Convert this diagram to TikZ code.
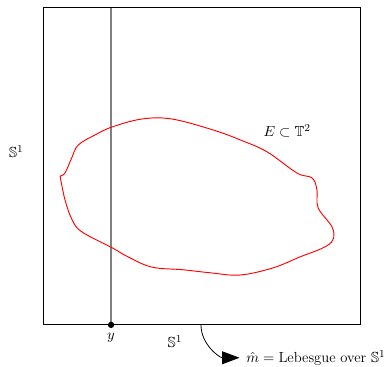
\documentclass[tikz,border=0pt]{standalone}
\usepackage{amsmath,amssymb}
\usetikzlibrary{arrows.meta}

\begin{document}
\begin{tikzpicture}[
        frame/.style={line width=0.8pt},
        fibre/.style={line width=1.2pt, gray},
        setE/.style={red, line width=0.7pt},
        lbl/.style={font=\fontsize{11}{13}\selectfont},
    ]
    \useasboundingbox (-1.14,-1.11) rectangle (9.13,8.6);

    % Torus as the unit square
    \draw[frame] (0,0) rectangle (8.39,8.39);

    % Vertical fibre over the point y
    \coordinate (ybase) at (1.80,0);
    \coordinate (ytop) at (1.80,8.39);
    \draw[fibre] (ybase) -- (ytop);
    \fill (ybase) circle (2.4pt);
    \node[lbl, below=3pt] (ylabel) at (ybase) {$y$};

    % Axis labels
    \node[lbl] (sbottom) at (3.49,-0.45) {$\mathbb{S}^1$};
    \node[lbl] (sleft) at (-0.71,4.58) {$\mathbb{S}^1$};

    % The set E
    \draw[setE] plot[smooth, tension=0.6] coordinates {
            (0.45,3.94) (0.58,4.02) (0.75,4.40) (0.93,4.76) (1.38,5.03)
            (1.83,5.24) (2.62,5.45) (3.41,5.45) (4.50,5.16) (5.21,4.90)
            (5.93,4.58) (6.72,4.02) (7.12,3.89) (7.25,3.57) (7.28,3.10)
            (7.65,2.59) (7.67,2.25) (7.41,2.04) (6.80,1.80) (6.09,1.51)
            (5.21,1.32) (4.42,1.38) (3.70,1.46) (2.88,1.53) (2.25,1.80)
            (1.83,2.04) (1.03,2.46) (0.77,2.78) (0.58,3.31) (0.45,3.94)
        };
    \node[lbl] (elabel) at (6.46,5.13) {$E \subset \mathbb{T}^2$};

    % Measure on the base circle
    \coordinate (mstart) at (4.18,0);
    \node[lbl, anchor=west, inner sep=1pt] (mlabel) at (5.34,-0.87) {$\hat{m} = \text{Lebesgue over } \mathbb{S}^1$};
    \draw[line width=0.6pt, -{Triangle[length=4.6mm,width=3.4mm]}] (mstart) to[out=-90, in=180] ([xshift=-4pt]mlabel.west);
\end{tikzpicture}
\end{document}
